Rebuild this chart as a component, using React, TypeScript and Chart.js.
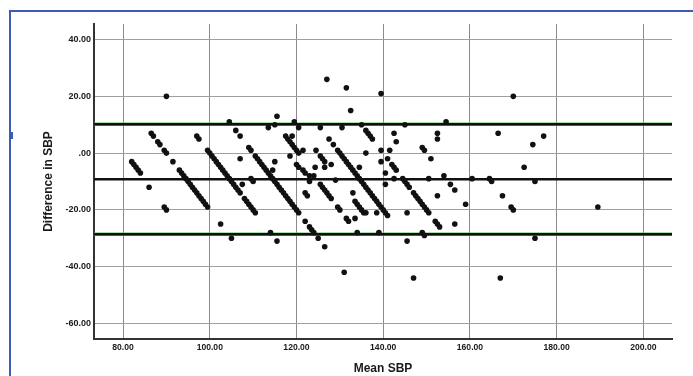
import React, { useEffect, useRef } from "react";
import { Chart, registerables } from "chart.js";

Chart.register(...registerables);

// Bland-Altman data: mean SBP (x) vs difference in SBP (y)
const meanSBP: number[] = [
  82, 82.5, 83, 83.5, 84,
  86, 89.5, 90, 90,
  86.5, 87, 88, 88.5, 89.5, 90, 91.5, 93, 93.5, 94, 94.5, 95, 95.5, 96, 96.5, 97, 97.5, 98, 98.5, 99, 99.5,
  97, 97.5,
  99.5, 100, 100.5, 101, 101.5, 102, 102.5, 103, 103.5, 104, 104.5, 105, 105.5, 106, 106.5, 107, 108, 108.5, 109, 109.5, 110, 110.5,
  102.5, 105, 104.5, 106, 107, 107, 107.5, 109.5, 110,
  109, 109.5, 110.5, 111, 111.5, 112, 112.5, 113, 113.5, 114, 114.5, 115, 115.5, 116, 116.5, 117, 117.5, 118, 118.5, 119, 119.5, 120, 120.5, 122, 123, 123.5, 124, 125,
  113.5, 115, 115.5, 114, 115.5, 115, 114.5,
  117.5, 118, 118.5, 119, 119.5, 120, 120.5,
  119, 118.5, 119.5, 120.5, 120, 120.5, 121.5, 124.5,
  121.5, 122, 123, 124.3, 124, 123, 122, 122.5,
  125.5, 126, 126.5, 126.5, 128,
  125.5, 127.5, 128.5, 127, 130.5, 131.5, 132.5, 129,
  129.5, 130, 130.5, 131, 131.5, 132, 132.5, 133, 133.5, 134, 134.5, 135, 135.5, 136, 136.5, 137, 137.5, 138, 138.5, 139, 139.5, 140, 140.5, 141,
  125.5, 126, 126.5, 127, 127.5, 128, 129.5, 130, 131.5, 132,
  133, 133.5, 134, 134.5, 135, 135.5,
  133.5, 134, 126.5, 131, 135, 134.5, 136,
  136, 136.5, 137, 137.5,
  139.5, 139.5, 141.5, 142.5, 143, 140.5, 142.5, 140.5, 136, 138.5, 139, 145, 154.5,
  139.5, 141, 142, 142.5, 143, 144.5, 145, 145.5, 146, 147, 147.5, 148, 148.5, 149, 149.5, 150, 150.5,
  145.5, 145.5, 147, 149, 149.5, 151, 150.5, 154, 152.5, 152.5, 152.5, 152, 152.5, 153, 149, 149.5,
  155.5, 156.5, 156.5, 159, 160.5, 164.5, 165, 166.5, 167.5, 169.5, 170, 170, 172.5, 174.5, 177, 175, 175, 167, 189.5,
];

const diffSBP: number[] = [
  -3, -4, -5, -6, -7,
  -12, -19, -20, 20,
  7, 6, 4, 3, 1, 0, -3, -6, -7, -8, -9, -10, -11, -12, -13, -14, -15, -16, -17, -18, -19,
  6, 5,
  1, 0, -1, -2, -3, -4, -5, -6, -7, -8, -9, -10, -11, -12, -13, -14, -16, -17, -18, -19, -20, -21,
  -25, -30, 11, 8, 6, -2, -11, -9, -10,
  2, 1, -1, -2, -3, -4, -5, -6, -7, -8, -9, -10, -11, -12, -13, -14, -15, -16, -17, -18, -19, -20, -21, -24, -26, -27, -28, -30,
  9, 10, 13, -28, -31, -3, -6,
  6, 5, 4, 3, 2, 1, 0,
  6, -1, 11, 9, -4, -5, 1, 1,
  -6, -7, -8, -5, -8, -10, -14, -15,
  -1, -2, -3, -5, -4,
  9, 5, 3, 26, 9, 23, 15, -9.5,
  1, 0, -1, -2, -3, -4, -5, -6, -7, -8, -9, -10, -11, -12, -13, -14, -15, -16, -17, -18, -19, -20, -21, -22,
  -11, -12, -13, -14, -15, -16, -19, -20, -23, -24,
  -14, -17, -18, -19, -20, -21,
  -23, -28, -33, -42, 10, -5, 0,
  8, 7, 6, 5,
  21, -3, 1, 7, 4, -7, -9, -11, -21, -21, -28, 10, 11,
  1, -2, -4, -5, -6, -9, -10, -11, -12, -14, -15, -16, -17, -18, -19, -20, -21,
  -21, -31, -44, 2, 1, -2, -9, -8, 7, 5, -15, -24, -25, -26, -28, -29,
  -11, -13, -25, -18, -9, -9, -10, 7, -15, -19, -20, 20, -5, 3, 6, -10, -30, -44, -19,
];

const meanDifference = -9.2;
const upperLimit = 10.2;
const lowerLimit = -28.6;

const xAxisMin = 73.3;
const xAxisMax = 206.6;
const yAxisMin = -65.5;
const yAxisMax = 45.5;

const xTickValues: number[] = [80, 100, 120, 140, 160, 180, 200];
const xTickLabels: string[] = ["80.00", "100.00", "120.00", "140.00", "160.00", "180.00", "200.00"];
const yTickValues: number[] = [-60, -40, -20, 0, 20, 40];
const yTickLabels: string[] = ["-60.00", "-40.00", "-20.00", ".00", "20.00", "40.00"];

const FONT = "'Liberation Sans', Arial, Helvetica, sans-serif";

export default function App() {
  const canvasRef = useRef<HTMLCanvasElement | null>(null);

  useEffect(() => {
    const canvas = canvasRef.current;
    if (!canvas) return;
    Chart.defaults.font.family = FONT;

    const points = meanSBP.map((m, i) => ({ x: m, y: diffSBP[i] }));
    const hLine = (v: number) => [
      { x: xAxisMin, y: v },
      { x: xAxisMax, y: v },
    ];

    const chart = new Chart(canvas, {
      type: "scatter",
      data: {
        datasets: [
          {
            label: "points",
            data: points,
            pointRadius: 2.8,
            pointBackgroundColor: "#111",
            pointBorderColor: "#111",
            pointBorderWidth: 0,
          },
          {
            label: "mean",
            data: hLine(meanDifference),
            showLine: true,
            pointRadius: 0,
            borderColor: "#111",
            borderWidth: 2.6,
          },
          {
            label: "upper",
            data: hLine(upperLimit),
            showLine: true,
            pointRadius: 0,
            borderColor: "#111",
            borderWidth: 2.4,
          },
          {
            label: "lower",
            data: hLine(lowerLimit),
            showLine: true,
            pointRadius: 0,
            borderColor: "#111",
            borderWidth: 2.4,
          },
          {
            label: "upperGreen",
            data: hLine(upperLimit),
            showLine: true,
            pointRadius: 0,
            borderColor: "#55c455",
            borderWidth: 3.6,
          },
          {
            label: "lowerGreen",
            data: hLine(lowerLimit),
            showLine: true,
            pointRadius: 0,
            borderColor: "#55c455",
            borderWidth: 3.6,
          },
        ],
      },
      options: {
        animation: false,
        responsive: false,
        maintainAspectRatio: false,
        events: [],
        layout: { padding: { left: 0, top: 24, right: 21, bottom: 0 } },
        plugins: {
          legend: { display: false },
          tooltip: { enabled: false },
        },
        scales: {
          x: {
            type: "linear",
            position: "bottom",
            min: xAxisMin,
            max: xAxisMax,
            afterBuildTicks: (axis: any) => {
              axis.ticks = xTickValues.map((v) => ({ value: v }));
            },
            afterFit: (axis: any) => {
              axis.height = 37;
            },
            grid: { color: "#8a8a8a", lineWidth: 1, drawTicks: false },
            border: { display: true, color: "#333", width: 2 },
            ticks: {
              padding: 3.5,
              color: "#1a1a1a",
              font: { size: 8.6, weight: "bold", family: FONT },
              callback: (_v: any, i: number) => xTickLabels[i],
            },
            title: {
              display: true,
              text: "Mean SBP",
              color: "#1a1a1a",
              font: { size: 12, weight: "bold", family: FONT },
              padding: { top: 0, bottom: 0 },
            },
          },
          y: {
            type: "linear",
            position: "left",
            min: yAxisMin,
            max: yAxisMax,
            afterBuildTicks: (axis: any) => {
              axis.ticks = yTickValues.map((v) => ({ value: v }));
            },
            afterFit: (axis: any) => {
              axis.width = 94;
            },
            grid: { color: "#a0a0a0", lineWidth: 1, drawTicks: false },
            border: { display: true, color: "#333", width: 2 },
            ticks: {
              padding: 3,
              color: "#1a1a1a",
              font: { size: 9, weight: "bold", family: FONT },
              callback: (_v: any, i: number) => yTickLabels[i],
            },
            title: {
              display: true,
              text: "Difference in SBP",
              color: "#1a1a1a",
              font: { size: 12, weight: "bold", family: FONT },
              padding: { top: 41, bottom: 0 },
            },
          },
        },
      },
    });

    return () => {
      chart.destroy();
    };
  }, []);

  return (
    <div
      style={{
        position: "fixed",
        left: 0,
        top: 0,
        width: 693,
        height: 376,
        overflow: "hidden",
        background: "#ffffff",
      }}
    >
      <canvas
        ref={canvasRef}
        width={693}
        height={376}
        style={{ position: "absolute", left: 0, top: 0, width: 693, height: 376 }}
      />
      <div
        style={{
          position: "absolute",
          left: 9,
          top: 10,
          width: 900,
          height: 600,
          borderLeft: "2px solid #3a5cb2",
          borderTop: "2px solid #3a5cb2",
          pointerEvents: "none",
        }}
      />
      <div
        style={{
          position: "absolute",
          left: 11,
          top: 132,
          width: 2,
          height: 7,
          background: "#3a5cb2",
          pointerEvents: "none",
        }}
      />
    </div>
  );
}
